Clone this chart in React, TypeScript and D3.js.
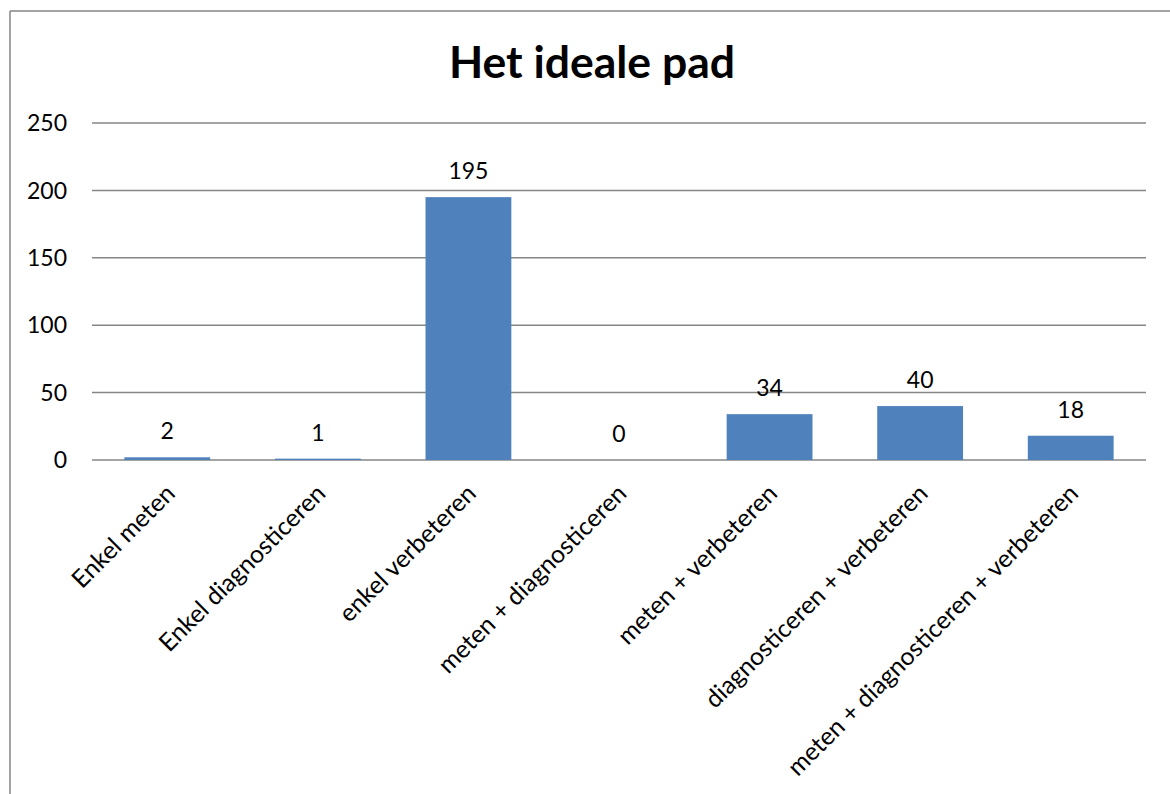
import React from "react";
import * as d3 from "d3";

const title = "Het ideale pad";
const categories = [
  "Enkel meten",
  "Enkel diagnosticeren",
  "enkel verbeteren",
  "meten + diagnosticeren",
  "meten + verbeteren",
  "diagnosticeren + verbeteren",
  "meten + diagnosticeren + verbeteren",
];
const values = [2, 1, 195, 0, 34, 40, 18];
const yTicks = [0, 50, 100, 150, 200, 250];

const W = 1170;
const H = 794;
const FONT = "Lato, 'Open Sans', sans-serif";

export default function App() {
  const left = 92, right = 1146, top = 123, bottom = 460;
  const x = d3.scaleBand<string>().domain(categories).range([left, right]).paddingInner(0.43).paddingOuter(0.215);
  const y = d3.scaleLinear().domain([0, 250]).range([bottom, top]);
  return (
    <svg width={W} height={H} style={{ position: "absolute", left: 0, top: 0 }}>
      <rect x={0} y={0} width={W} height={H} fill="#fff" />
      <line x1={10} y1={11} x2={W} y2={11} stroke="#868686" strokeWidth={1.5} />
      <line x1={10} y1={11} x2={10} y2={H} stroke="#868686" strokeWidth={1.5} />
      <text x={592} y={78} textAnchor="middle" fontFamily={FONT} fontWeight="bold" fontSize={44.5} fill="#000">{title}</text>
      {yTicks.map((t) => (
        <g key={t}>
          <line x1={left} x2={right} y1={y(t)} y2={y(t)} stroke="#868686" strokeWidth={1.5} />
          <text x={67} y={y(t)} dy="0.36em" textAnchor="end" fontFamily={FONT} fontSize={23} fill="#000">{t}</text>
        </g>
      ))}
      {categories.map((c, i) => (
        <g key={c}>
          <rect x={x(c)} y={y(values[i])} width={x.bandwidth()} height={Math.max(0, y(0) - y(values[i]))} fill="#4F81BD" />
          <text x={(x(c) as number) + x.bandwidth() / 2} y={y(values[i]) - 18} textAnchor="middle" fontFamily={FONT} fontSize={23} fill="#000">{values[i]}</text>
          <text transform={`translate(${(x(c) as number) + x.bandwidth() / 2 - 4},${482}) rotate(-45)`} textAnchor="end" dy="0.75em" fontFamily={FONT} fontSize={24.7} fill="#000">{c}</text>
        </g>
      ))}
    </svg>
  );
}
